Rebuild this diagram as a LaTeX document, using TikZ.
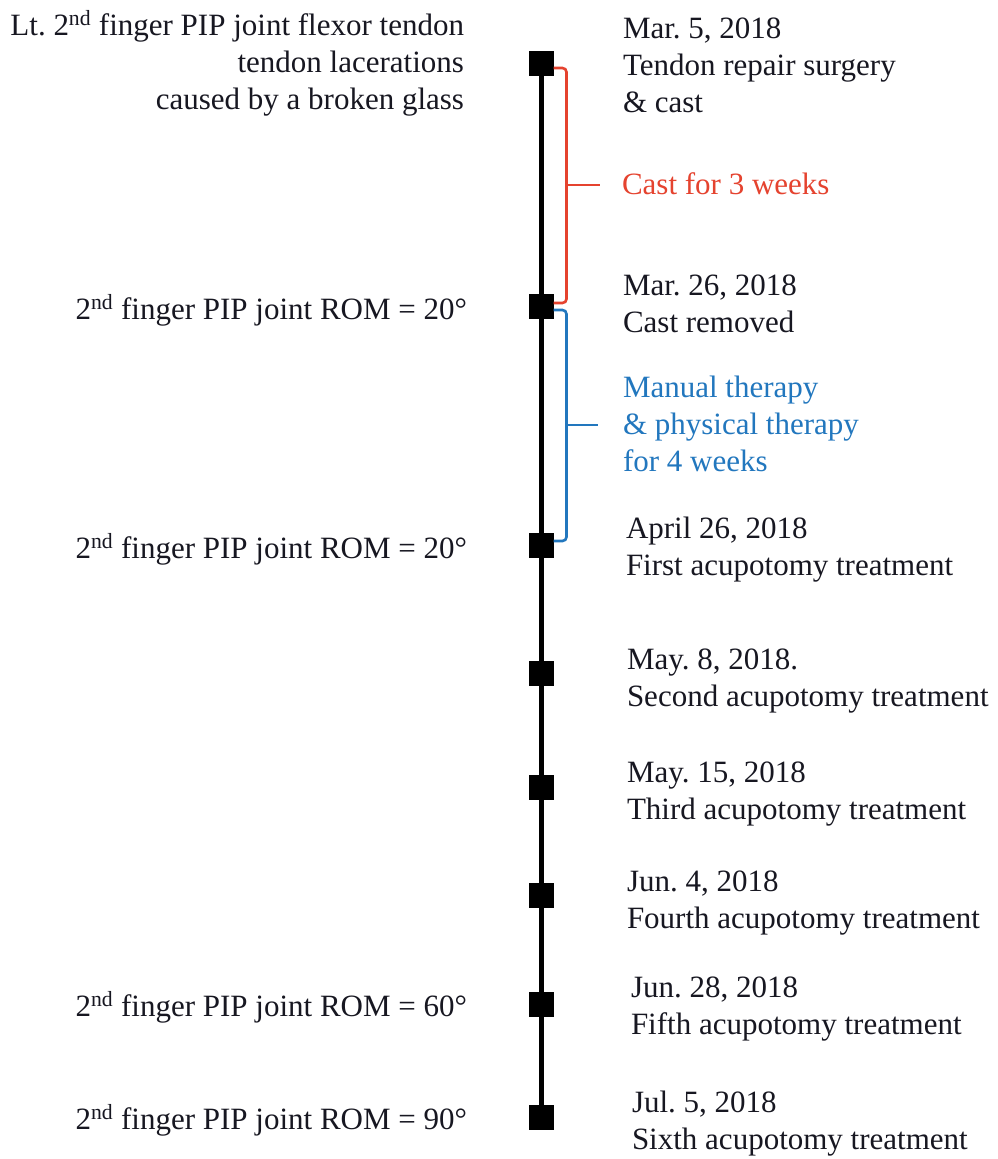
\documentclass[tikz,border=0pt]{standalone}
\usepackage{fontspec}
\setmainfont{Liberation Serif}
\frenchspacing
\definecolor{txt}{rgb}{0.09,0.09,0.13}
\definecolor{castred}{HTML}{E5432F}
\definecolor{therblue}{HTML}{2277BE}
\begin{document}
\begin{tikzpicture}[x=1pt,y=-1pt,
  every node/.style={inner sep=0pt,outer sep=0pt,font=\fontsize{31}{37}\selectfont\frenchspacing,text=txt},
  mark box/.style={fill=black,minimum width=25pt,minimum height=25pt,inner sep=0pt},
  rtext/.style={anchor=base west,align=left},
  ltext/.style={anchor=base east,align=right},
  brace red/.style={draw=castred,line width=2.6pt,rounded corners=4pt},
  brace blue/.style={draw=therblue,line width=2.6pt,rounded corners=4pt}]
\useasboundingbox[fill=white] (0,0) rectangle (998,1159);

% timeline marks
\node[mark box] (s1) at (541,63) {};
\node[mark box] (s2) at (541,306) {};
\node[mark box] (s3) at (541,545) {};
\node[mark box] (s4) at (541,673) {};
\node[mark box] (s5) at (541,787) {};
\node[mark box] (s6) at (541,895) {};
\node[mark box] (s7) at (541,1004) {};
\node[mark box] (s8) at (541,1117) {};
\draw[line width=5pt] (s1.center) -- (s8.center);
\foreach \n in {s1,s2,s3,s4,s5,s6,s7,s8} \fill (\n.south west) rectangle (\n.north east);

% brackets
\coordinate (rt) at ([yshift=-5pt]s1.east);
\coordinate (rb) at ([yshift=3pt]s2.east);
\draw[brace red] (rt) -- ++(13,0) |- (rb);
\coordinate (rm) at (567,185);
\draw[draw=castred,line width=2.6pt] (rm) -- ++(33,0);
\node[rtext,text=castred] (castlbl) at (622,194) {Cast for 3 weeks};

\coordinate (bt) at ([yshift=-4pt]s2.east);
\coordinate (bb) at ([yshift=4pt]s3.east);
\draw[brace blue] (bt) -- ++(13,0) |- (bb);
\coordinate (bm) at (567,425);
\draw[draw=therblue,line width=2.6pt] (bm) -- ++(31,0);
\node[rtext,text=therblue] (therlbl) at (623,471) {Manual therapy\\\& physical therapy\\for 4 weeks};

% right texts (anchor = baseline of last line)
\node[rtext] (e1) at (623,112) {Mar. 5, 2018\\Tendon repair surgery\\\& cast};
\node[rtext] (e2) at (623,332) {Mar. 26, 2018\\Cast removed};
\node[rtext] (e3) at (626,575) {April 26, 2018\\First acupotomy treatment};
\node[rtext] (e4) at (627,706) {May. 8, 2018.\\Second acupotomy treatment};
\node[rtext] (e5) at (627,819) {May. 15, 2018\\Third acupotomy treatment};
\node[rtext] (e6) at (627,928) {Jun. 4, 2018\\Fourth acupotomy treatment};
\node[rtext] (e7) at (631,1034) {Jun. 28, 2018\\Fifth acupotomy treatment};
\node[rtext] (e8) at (632,1149) {Jul. 5, 2018\\Sixth acupotomy treatment};

% left texts
\node[ltext] (l1) at (464,109) {Lt. 2\textsuperscript{nd} finger PIP joint flexor tendon\\tendon lacerations\\caused by a broken glass};
\node[ltext] (l2) at (467,319) {2\textsuperscript{nd} finger PIP joint ROM = 20°};
\node[ltext] (l3) at (467,558) {2\textsuperscript{nd} finger PIP joint ROM = 20°};
\node[ltext] (l4) at (467,1016) {2\textsuperscript{nd} finger PIP joint ROM = 60°};
\node[ltext] (l5) at (467,1129) {2\textsuperscript{nd} finger PIP joint ROM = 90°};
\end{tikzpicture}
\end{document}
